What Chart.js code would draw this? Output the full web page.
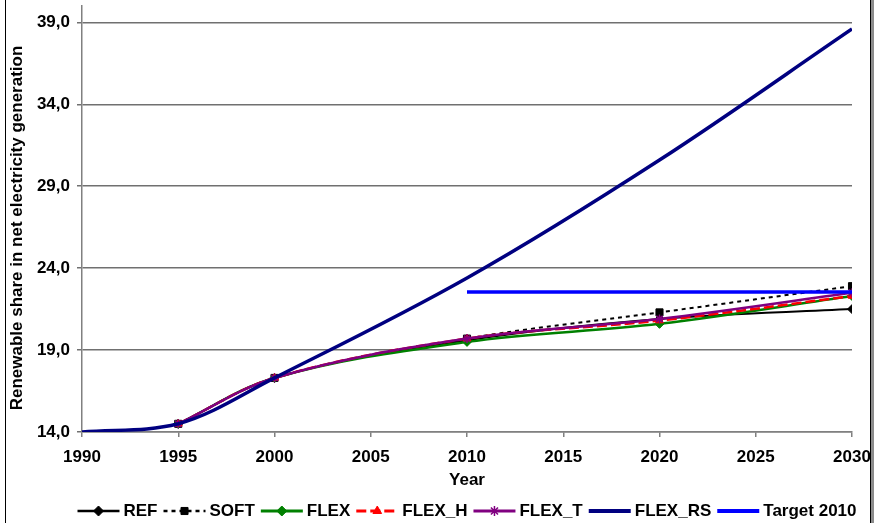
<!DOCTYPE html>
<html lang="en">
<head>
    <title>Renewable share</title>
    <meta charset="UTF-8">
    <script src="https://cdn.jsdelivr.net/npm/chart.js"></script>
    <style>
        html, body { margin: 0; padding: 0; background: #fff; }
        #wrap { width: 877px; height: 523px; }
    </style>
</head>
<body>
<div id="wrap"><canvas id="shareChart" width="877" height="523"></canvas></div>
<script>
    // data
    const years    = [1990, 1995, 2000, 2010, 2020, 2030];
    const ref      = [null, 14.5, 17.3, 19.6, 20.9, 21.5];
    const soft     = [null, 14.5, 17.3, 19.7, 21.3, 22.9];
    const flex     = [null, 14.5, 17.3, 19.5, 20.6, 22.3];
    const flexH    = [null, 14.5, 17.3, 19.7, 20.8, 22.3];
    const flexT    = [null, 14.5, 17.3, 19.7, 20.9, 22.5];
    const flexRS   = [14.0, 14.5, 17.3, 23.4, 30.6, 38.6];
    const target   = [null, null, null, 22.55, null, 22.55];
    const yTicks   = [14, 19, 24, 29, 34, 39];

    const FONT = 'Arial, "Liberation Sans", sans-serif';
    const FS = 17;

    function pts(vals) {
        return years.map((y, i) => ({ x: y, y: vals[i] }));
    }

    function series(label, vals, color, opts) {
        return Object.assign({
            label: label,
            data: pts(vals),
            borderColor: color,
            backgroundColor: color,
            pointBackgroundColor: color,
            pointBorderColor: color,
            pointBorderWidth: 1,
            pointRadius: 4.5,
            borderWidth: 2.5,
            tension: 0.35,
            spanGaps: true
        }, opts);
    }

    const datasets = [
        series('REF', ref, '#000000', { pointStyle: 'rectRot', borderWidth: 2 }),
        series('SOFT', soft, '#000000', { pointStyle: 'rect', pointRadius: 5, borderWidth: 2, borderDash: [4, 4] }),
        series('FLEX', flex, '#008000', { pointStyle: 'rectRot' }),
        series('FLEX_H', flexH, '#ff0000', { pointStyle: 'triangle', borderWidth: 2.5, borderDash: [10, 4] }),
        series('FLEX_T', flexT, '#800080', { pointStyle: 'star', pointBorderWidth: 1.5 }),
        series('FLEX_RS', flexRS, '#000080', { pointRadius: 0, borderWidth: 3.5 }),
        series('Target 2010', target, '#0000ff', { pointRadius: 0, borderWidth: 3.5, tension: 0 })
    ];
    // later series on top, like the original
    datasets.forEach((d, i) => { d.order = datasets.length - i; });

    // frame, y title and legend drawn by hand
    const framePlugin = {
        id: 'frame',
        afterDraw(chart) {
            const ctx = chart.ctx;
            ctx.save();
            ctx.fillStyle = '#000';
            ctx.fillRect(5, 0, 1, 523);
            ctx.fillRect(870, 0, 1, 523);
            ctx.fillStyle = '#8c8c8c';
            ctx.fillRect(871, 0, 3, 523);

            // y axis title, a bit lower than the plot centre as in the original
            ctx.save();
            ctx.translate(17, 228);
            ctx.rotate(-Math.PI / 2);
            ctx.font = 'bold ' + FS + 'px ' + FONT;
            ctx.fillStyle = '#000';
            ctx.textAlign = 'center';
            ctx.textBaseline = 'middle';
            ctx.fillText('Renewable share in net electricity generation', 0, 0);
            ctx.restore();

            // legend
            const lineLen = 42, textGap = 4, itemGap = 6, cy = 511;
            ctx.font = 'bold ' + FS + 'px ' + FONT;
            const ds = chart.data.datasets;
            const widths = ds.map(d => lineLen + textGap + ctx.measureText(d.label).width);
            const total = widths.reduce((a, b) => a + b, 0) + itemGap * (ds.length - 1);
            let x = (chart.chartArea.left + chart.chartArea.right) / 2 - total / 2;
            ds.forEach((d, i) => {
                ctx.save();
                ctx.strokeStyle = d.borderColor;
                ctx.lineWidth = d.borderWidth + 0.5;
                ctx.setLineDash(d.borderDash || []);
                ctx.beginPath();
                ctx.moveTo(x, cy);
                ctx.lineTo(x + lineLen, cy);
                ctx.stroke();
                ctx.restore();
                if (d.pointRadius > 0) {
                    ctx.save();
                    ctx.fillStyle = d.pointBackgroundColor;
                    ctx.strokeStyle = d.pointBorderColor;
                    ctx.lineWidth = d.pointBorderWidth;
                    Chart.helpers.drawPoint(ctx, {
                        pointStyle: d.pointStyle, radius: 5, rotation: 0, borderWidth: d.pointBorderWidth
                    }, x + lineLen / 2, cy);
                    ctx.restore();
                }
                ctx.fillStyle = '#000';
                ctx.textBaseline = 'middle';
                ctx.textAlign = 'left';
                ctx.fillText(d.label, x + lineLen + textGap, cy);
                x += widths[i] + itemGap;
            });
            ctx.restore();
        }
    };

    new Chart(document.getElementById('shareChart'), {
        type: 'line',
        data: { datasets: datasets },
        options: {
            responsive: false,
            animation: false,
            layout: { padding: { top: 6, right: 25, bottom: 32, left: 0 } },
            plugins: {
                legend: { display: false },
                tooltip: { enabled: false }
            },
            scales: {
                x: {
                    type: 'linear',
                    min: 1990,
                    max: 2030,
                    ticks: {
                        stepSize: 5,
                        padding: 10,
                        color: '#000',
                        font: { family: FONT, size: FS, weight: 'bold' },
                        callback: v => String(v)
                    },
                    grid: { drawOnChartArea: false, tickLength: 5, color: '#808080', lineWidth: 1.5 },
                    border: { color: '#808080', width: 1.5 },
                    title: {
                        display: true,
                        text: 'Year',
                        color: '#000',
                        font: { family: FONT, size: FS, weight: 'bold' },
                        padding: { top: 0, bottom: 0 }
                    },
                    afterFit(s) {
                        s.height = 59;
                        s.paddingLeft = 0;
                        s.paddingRight = 0;
                    }
                },
                y: {
                    min: 14,
                    max: 40,
                    afterBuildTicks(s) {
                        s.ticks = yTicks.map(v => ({ value: v }));
                    },
                    ticks: {
                        padding: 7,
                        color: '#000',
                        font: { family: FONT, size: FS, weight: 'bold' },
                        callback: v => v.toFixed(1).replace('.', ',')
                    },
                    grid: { color: '#707070', lineWidth: 1.5, tickLength: 5 },
                    border: { color: '#808080', width: 1.5 },
                    afterFit(s) {
                        s.width = 82;
                        s.paddingTop = 0;
                        s.paddingBottom = 0;
                    }
                }
            }
        },
        plugins: [framePlugin]
    });
</script>
</body>
</html>
